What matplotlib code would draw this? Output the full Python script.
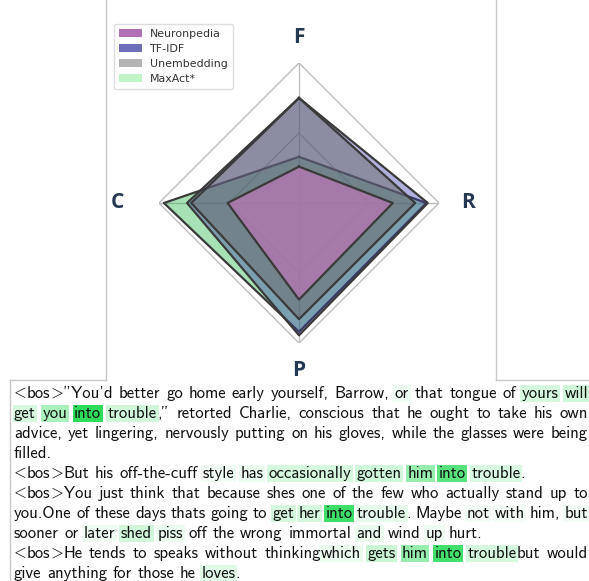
import numpy as np
import matplotlib
matplotlib.use('Agg')
import matplotlib.pyplot as plt
from matplotlib.patches import Patch, Rectangle
from matplotlib.colors import LinearSegmentedColormap

# radar data (F, R, P, C)
categories = ['F', 'R', 'P', 'C']
neuronpedia = [0.26, 0.67, 0.69, 0.51]
tfidf = [0.75, 0.92, 0.945, 0.80]
unembedding = [0.75, 0.83, 0.83, 0.77]
maxact = [0.33, 0.91, 0.92, 0.965]

series_names = ['Neuronpedia', 'TF-IDF', 'Unembedding', 'MaxAct*']
legend_colors = ['#b070b8', '#7070b8', '#b4b4b4', '#c0f4c8']

# example text, '|' joins tokens without a space
text_lines = [
    '<|bos|>|"You\'d better go home early yourself, Barrow, or that tongue of yours will',
    'get you into trouble|," retorted Charlie, conscious that he ought to take his own',
    'advice, yet lingering, nervously putting on his gloves, while the glasses were being',
    'filled.',
    '<|bos|>|But his off-the-cuff style has occasionally gotten him into trouble|.',
    '<|bos|>|You just think that because shes one of the few who actually stand up to',
    'you.One of these days thats going to get her into trouble|. Maybe not with him, but',
    'sooner or later shed piss off the wrong immortal and wind up hurt.',
    '<|bos|>|He tends to speaks without thinking|which gets him into trouble|but would',
    'give anything for those he loves|.',
]
par_end = [False, False, False, True, True, False, False, True, False, True]
highlights = [
    {'or': 0.08, 'yours': 0.2, 'will': 0.22},
    {'get': 0.2, 'you': 0.4, 'into': 1.0, 'trouble': 0.22},
    {},
    {},
    {'style': 0.07, 'has': 0.1, 'occasionally': 0.2, 'gotten': 0.22,
     'him': 0.5, 'into': 0.8, 'trouble': 0.18},
    {},
    {'get': 0.2, 'her': 0.2, 'into': 0.92, 'trouble': 0.12,
     'not': 0.07, 'with': 0.05, 'but': 0.07},
    {'later': 0.08, 'shed': 0.22, 'piss': 0.1, 'and': 0.1, 'up': 0.08},
    {'which': 0.1, 'gets': 0.25, 'him': 0.5, 'into': 0.9, 'trouble': 0.2},
    {'loves': 0.15},
]

W, H = 589, 581
fig = plt.figure(figsize=(W / 100, H / 100), dpi=100)

# full-page axes in pixel units for borders and text
page = fig.add_axes([0, 0, 1, 1], zorder=0)
page.set_xlim(0, W)
page.set_ylim(H, 0)
page.axis('off')

border = '#c8c8c8'
page.plot([105.5, 105.5], [0, 380], color=border, lw=1)
page.plot([495.5, 495.5], [0, 380], color=border, lw=1)
page.plot([10, 105.5], [380, 380], color=border, lw=1)
page.plot([495.5, W], [380, 380], color=border, lw=1)
page.plot([10, 10], [380, H], color=border, lw=1)

# radar chart
cx, cy, rad = 299, 203, 140
ax = fig.add_axes([(cx - rad) / W, 1 - (cy + rad) / H, 2 * rad / W, 2 * rad / H],
                  projection='polar', zorder=1)
ax.set_theta_offset(np.pi / 2)
ax.set_theta_direction(-1)
ax.set_ylim(0, 1)
ax.grid(False)
ax.set_xticks([])
ax.set_yticks([])
ax.spines['polar'].set_visible(False)
ax.patch.set_alpha(0)

theta = np.linspace(0, 2 * np.pi, len(categories), endpoint=False)
closed = np.append(theta, theta[0])
for r in [0.5, 1.0]:
    ax.plot(closed, [r] * len(closed), color='#bdbdbd', lw=1, zorder=1)
for t in theta:
    ax.plot([t, t], [0, 1], color='#bdbdbd', lw=1, zorder=1)

draw_order = [(maxact, '#25b648', 0.4),
              (tfidf, '#3c3caa', 0.4),
              (unembedding, '#696969', 0.5),
              (neuronpedia, '#bc76b4', 0.7)]
for i, (vals, col, a) in enumerate(draw_order):
    v = np.append(vals, vals[0])
    ax.fill(closed, v, color=col, alpha=a, lw=0, zorder=2 + i)
    ax.plot(closed, v, color='#3a3a3a', lw=1.6, zorder=2 + i)

label_r = [1.18, 1.21, 1.20, 1.30]
for t, lab, r in zip(theta, categories, label_r):
    ax.text(t, r, lab, ha='center', va='center', fontsize=15, fontweight='bold',
            color='#253a52', family='Open Sans')

handles = [Patch(facecolor=c, edgecolor='none') for c in legend_colors]
fig.legend(handles, series_names, loc='upper left', bbox_to_anchor=(114 / W, 1 - 24 / H),
           borderaxespad=0, fontsize=7.9, frameon=True, edgecolor='#dddddd', framealpha=1,
           fancybox=True, handlelength=2.1, handleheight=0.7, labelspacing=0.45,
           borderpad=0.45, handletextpad=0.75, labelcolor='#333333')

# highlighted text block
fs = 12
renderer = fig.canvas.get_renderer()


def font_of(s):
    # cmss10 has no angle brackets, take them from cmmi10
    return 'cmmi10' if s in ('<', '>') else 'cmss10'


def width(s):
    t = page.text(0, 0, s, fontsize=fs, family=font_of(s))
    w = t.get_window_extent(renderer).width
    t.remove()
    return w


space = width('a a') - width('aa')
cmap = LinearSegmentedColormap.from_list('act', ['#ffffff', '#2edc5c'])
x_left, x_right = 14, 588
base0, step = 398, 20

for i, (line, last, hl) in enumerate(zip(text_lines, par_end, highlights)):
    words = [w.split('|') for w in line.split(' ')]
    wws = [[width(p) for p in w] for w in words]
    total = sum(sum(w) for w in wws)
    gap = space if last else (x_right - x_left - total) / (len(words) - 1)
    y = base0 + step * i
    x = x_left
    for parts, ws in zip(words, wws):
        for p, w in zip(parts, ws):
            if p in hl:
                page.add_patch(Rectangle((x - 1.5, y - 13.5), w + 3, 17.5,
                                         facecolor=cmap(hl[p]), edgecolor='none', zorder=1))
            page.text(x, y, p, fontsize=fs, family=font_of(p), va='baseline',
                      ha='left', color='#111111', zorder=2)
            x += w
        x += gap

fig.savefig('out.png', dpi=100)
